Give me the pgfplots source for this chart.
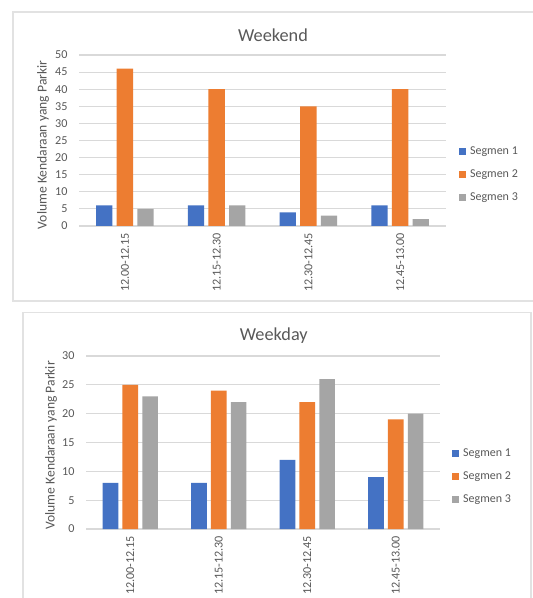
\documentclass[border=0pt]{standalone}
\usepackage{pgfplots}
\pgfplotsset{compat=1.18}
\usepackage{fontspec}
\setmainfont{Carlito}

\definecolor{segA}{HTML}{4472C4}
\definecolor{segB}{HTML}{ED7D31}
\definecolor{segC}{HTML}{A5A5A5}
\definecolor{txt}{HTML}{595959}
\definecolor{gridc}{HTML}{D9D9D9}
\definecolor{framec}{HTML}{E2E2E2}

\pgfplotsset{
  parkchart/.style={
    scale only axis,
    ybar=3.2pt,
    bar width=12.2pt,
    ymin=0,
    xmin=-0.5, xmax=3.5,
    xtick={0,1,2,3},
    xticklabels={12.00-12.15,12.15-12.30,12.30-12.45,12.45-13.00},
    major tick length=0pt,
    axis line style={draw=none},
    ymajorgrids,
    grid style={gridc, line width=0.8pt},
    /pgf/number format/assume math mode=true,
    tick label style={font=\fontsize{9.1}{11}\selectfont, text=txt},
    yticklabel style={inner sep=0pt, anchor=east, xshift=-8.5pt},
    xticklabel style={rotate=90, anchor=east, inner sep=0pt},
    xticklabel shift=5pt,
    ylabel={Volume Kendaraan yang Parkir},
    ylabel style={font=\fontsize{10.2}{12}\selectfont, text=txt, anchor=center},
    legend style={draw=none, fill=none, inner sep=0pt, anchor=west,
      font=\fontsize{9}{11}\selectfont, text=txt,
      nodes={inner sep=0pt, text height=6.5pt, text depth=2pt},
      column sep=3pt, row sep=8.75pt},
    legend cell align=left,
  },
  seg/.style={fill=#1, draw=none,
    legend image code/.code={\fill[#1] (0pt,-2.6pt) rectangle (5.2pt,2.6pt);}},
}

\begin{document}
\begin{tikzpicture}
\useasboundingbox (0,0) rectangle (399pt,448.5pt);
\fill[white] (0,0) rectangle (399pt,448.5pt);

% chart frames
\draw[framec, line width=0.8pt] (9.75pt,222.75pt) rectangle (410pt,439.5pt);
\draw[framec, line width=0.8pt] (17.25pt,-10pt) rectangle (398.25pt,214.1pt);

% Weekend
\begin{axis}[parkchart,
  at={(59.25pt,279pt)}, anchor=south west,
  width=275.25pt, height=128.25pt,
  ymax=50, ytick={0,5,...,50},
  ylabel style={at={(axis description cs:-0.098,0.474)}},
  legend style={at={(axis description cs:1.035,0.302)}},
]
\addplot[seg=segA] coordinates {(0,6) (1,6) (2,4) (3,6)};
\addplot[seg=segB] coordinates {(0,46) (1,40) (2,35) (3,40)};
\addplot[seg=segC] coordinates {(0,5) (1,6) (2,3) (3,2)};
\legend{Segmen 1,Segmen 2,Segmen 3}
\end{axis}
\node[text=txt, font=\fontsize{13.7}{16}\selectfont] at (204.75pt,422.25pt) {Weekend};

% Weekday
\begin{axis}[parkchart,
  at={(64.5pt,51.75pt)}, anchor=south west,
  width=265.5pt, height=129.75pt,
  ybar=3.1pt, bar width=11.8pt,
  ymax=30, ytick={0,5,...,30},
  ylabel style={at={(axis description cs:-0.099,0.483)}},
  legend style={at={(axis description cs:1.034,0.305)}},
]
\addplot[seg=segA] coordinates {(0,8) (1,8) (2,12) (3,9)};
\addplot[seg=segB] coordinates {(0,25) (1,24) (2,22) (3,19)};
\addplot[seg=segC] coordinates {(0,23) (1,22) (2,26) (3,20)};
\legend{Segmen 1,Segmen 2,Segmen 3}
\end{axis}
\node[text=txt, font=\fontsize{13.7}{16}\selectfont] at (205.3pt,196.5pt) {Weekday};
\end{tikzpicture}
\end{document}
